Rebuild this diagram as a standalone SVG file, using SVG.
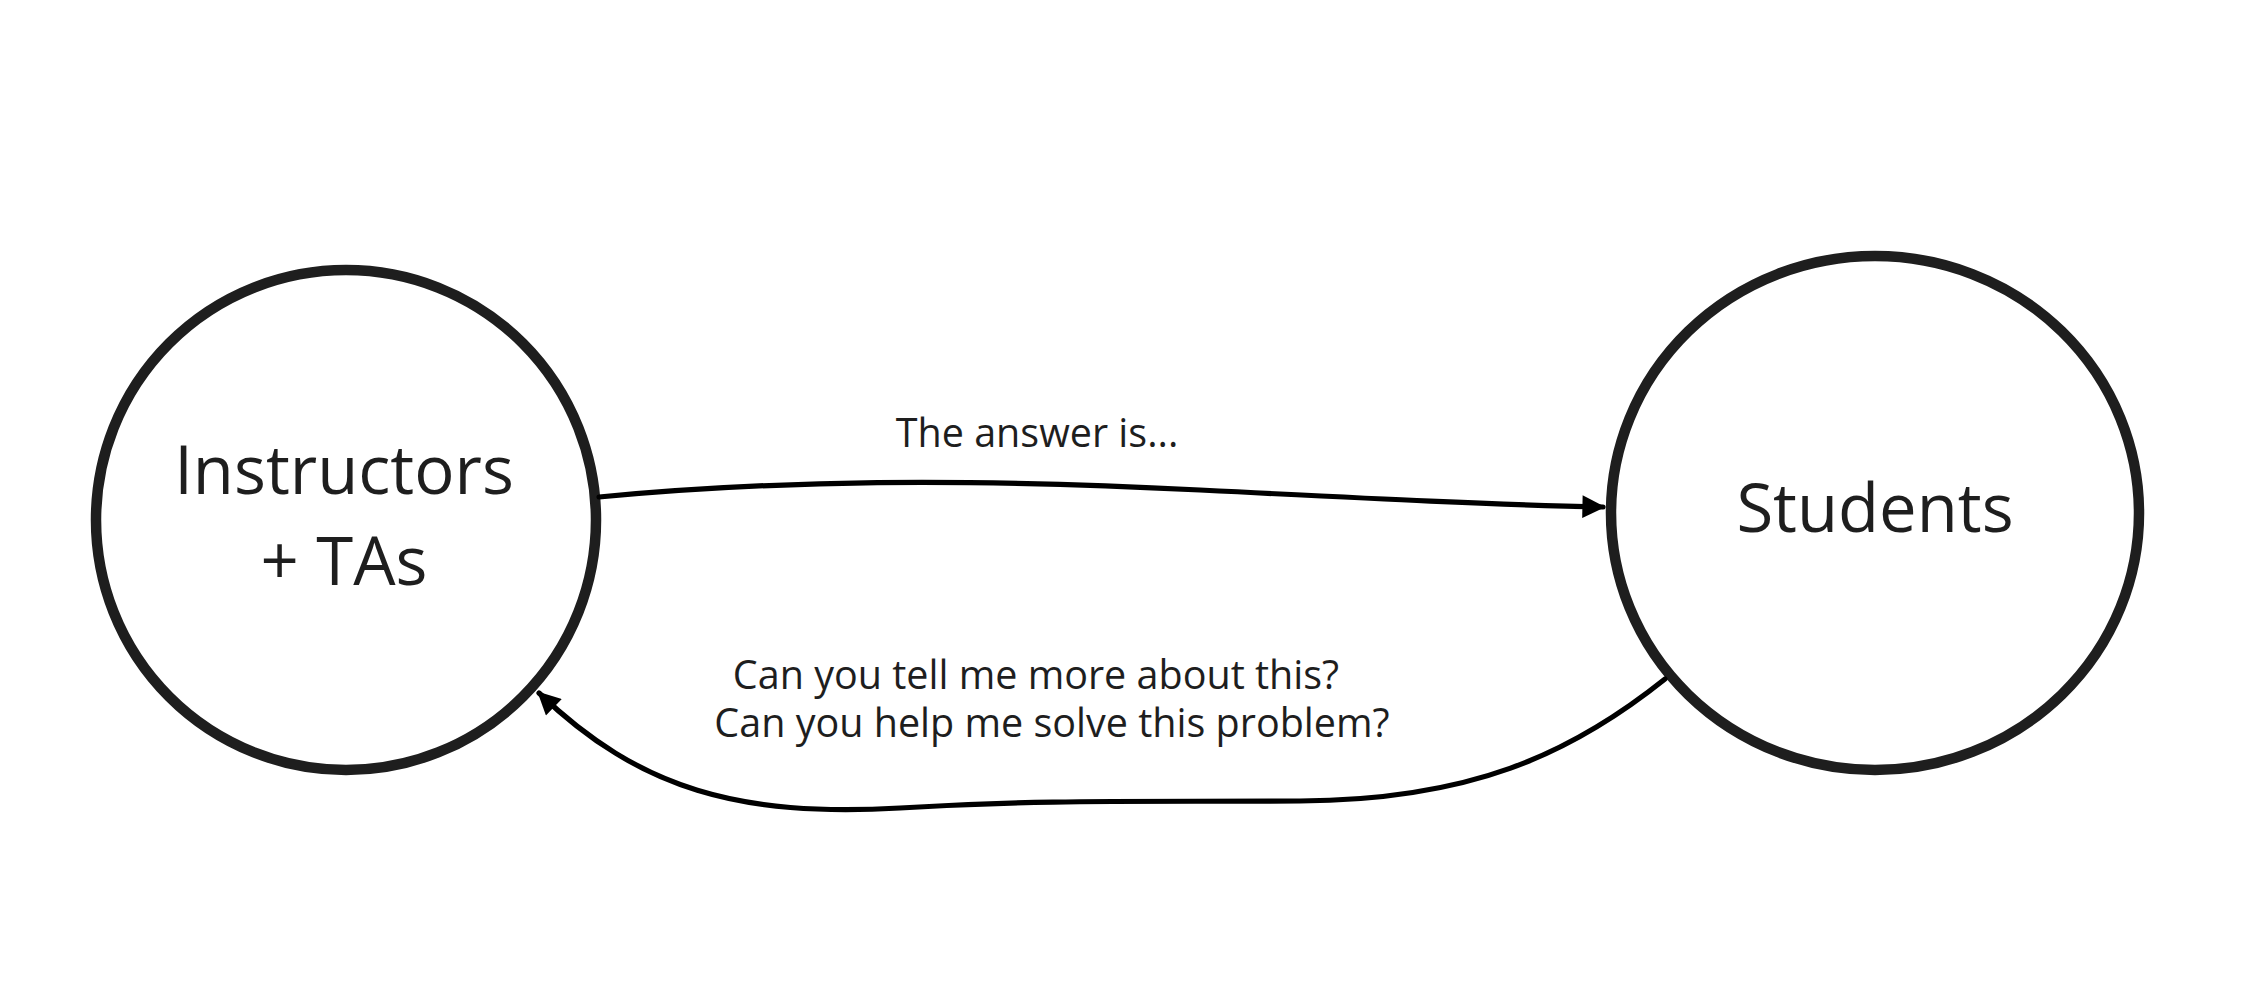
<svg xmlns="http://www.w3.org/2000/svg" width="2247" height="1000" viewBox="0 0 2247 1000">
<style>
.node{fill:#fff;stroke:#1e1e1e;stroke-width:10.5}
.lbl{font-family:"Open Sans","Noto Sans",sans-serif;fill:#1e1e1e;text-anchor:middle}
.big{font-size:67px}
.small{font-size:39.5px}
.edge{fill:none;stroke:#000;stroke-width:5.2;stroke-linecap:round}
</style>
<defs>
<marker id="arrow" viewBox="0 0 10 10" refX="9" refY="5" markerWidth="4.6" markerHeight="4.4" markerUnits="strokeWidth" orient="auto">
<path d="M0,0 L10,5 L0,10 Z" fill="#000"/>
</marker>
</defs>
<rect width="2247" height="1000" fill="#fff"/>
<g id="node-instructors">
<circle class="node" cx="346" cy="520" r="250"/>
<text class="lbl big" x="344" y="494">Instructors<tspan x="344" y="585">+ TAs</tspan></text>
</g>
<g id="node-students">
<ellipse class="node" cx="1875" cy="513" rx="264" ry="257"/>
<text class="lbl big" x="1875" y="532">Students</text>
</g>
<g id="connectors">
<path class="edge" d="M599,497 C780,480 960,478 1200,490 C1380,499 1500,505 1603,507" marker-end="url(#arrow)"/>
<text class="lbl small" x="1037" y="447">The answer is...</text>
<path class="edge" d="M1665,679 C1570,755 1470,800 1300,801 C1150,802 1050,799 900,808 C740,817 640,790 539,693" marker-end="url(#arrow)"/>
<text class="lbl small" x="1036" y="689">Can you tell me more about this?<tspan x="1052" y="737">Can you help me solve this problem?</tspan></text>
</g>
</svg>
